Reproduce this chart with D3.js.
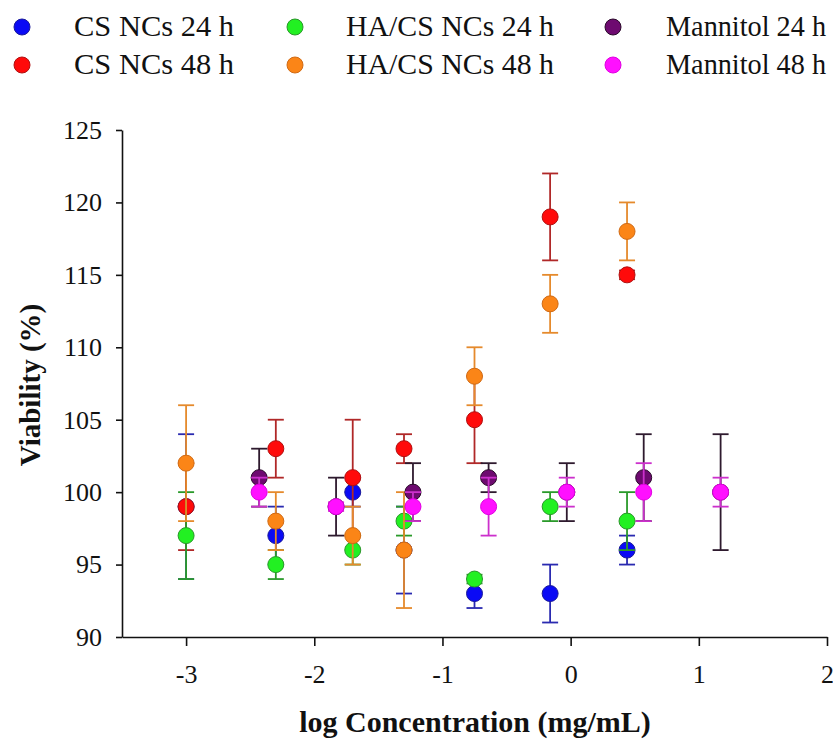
<!DOCTYPE html>
<html>
<head>
<meta charset="utf-8">
<script src="https://cdn.jsdelivr.net/npm/d3@7"></script>
<style>
  html, body { margin: 0; padding: 0; background: #fff; }
  svg { display: block; font-family: "Liberation Serif", "Times New Roman", serif; }
  svg text { font-family: "Liberation Serif", "Times New Roman", serif; }
</style>
</head>
<body>
<svg id="chart" width="833" height="742"></svg>
<script>
// log concentration (mg/mL) for the nanocarrier series and for mannitol
const ncLogConc = [-3, -2.3, -1.7, -1.3, -0.75, -0.16, 0.44];
const mannitolLogConc = [-2.43, -1.83, -1.23, -0.64, -0.03, 0.57, 1.17];

// viability (%) and error (±)
const cs24 = [99, 97, 100, 96, 93, 93, 96];
const cs24Err = [5, 2, 1, 3, 1, 2, 1];
const cs48 = [99, 103, 101, 103, 105, 119, 115];
const cs48Err = [3, 2, 4, 1, 3, 3, 0.3];
const ha24 = [97, 95, 96, 98, 94, 99, 98];
const ha24Err = [3, 1, 1, 1, 0.3, 1, 2];
const ha48 = [102, 98, 97, 96, 108, 113, 118];
const ha48Err = [4, 2, 2, 4, 2, 2, 2];
const man24 = [101, 99, 100, 101, 100, 101, 100];
const man24Err = [2, 2, 2, 1, 2, 3, 4];
const man48 = [100, 99, 99, 99, 100, 100, 100];
const man48Err = [1, 0.3, 1, 2, 1, 2, 1];

const xTicks = [-3, -2, -1, 0, 1, 2];
const yTicks = [90, 95, 100, 105, 110, 115, 120, 125];

const seriesNames = ["CS NCs 24 h", "CS NCs 48 h", "HA/CS NCs 24 h", "HA/CS NCs 48 h", "Mannitol 24 h", "Mannitol 48 h"];

const series = [
  { name: seriesNames[0], x: ncLogConc, y: cs24, e: cs24Err, fill: "#0a0af5", stroke: "#1a1a9a", bar: "#2a2ab0" },
  { name: seriesNames[1], x: ncLogConc, y: cs48, e: cs48Err, fill: "#ff0a0a", stroke: "#b01010", bar: "#b02828" },
  { name: seriesNames[2], x: ncLogConc, y: ha24, e: ha24Err, fill: "#22f022", stroke: "#2a962a", bar: "#2a9a2a" },
  { name: seriesNames[3], x: ncLogConc, y: ha48, e: ha48Err, fill: "#fb8517", stroke: "#d06a14", bar: "#e58a2c" },
  { name: seriesNames[4], x: mannitolLogConc, y: man24, e: man24Err, fill: "#6e0a70", stroke: "#2a0a2a", bar: "#2e1a2e" },
  { name: seriesNames[5], x: mannitolLogConc, y: man48, e: man48Err, fill: "#ff10ff", stroke: "#e000e0", bar: "#cc30cc" }
];

const serif = "'Liberation Serif', 'Times New Roman', serif";
const svg = d3.select("#chart");

const x = d3.scaleLinear().domain([-3.5, 2]).range([122, 827]);
const y = d3.scaleLinear().domain([90, 125]).range([637, 130]);

// axes
const xAxis = svg.append("g")
  .attr("transform", `translate(0,${y(90)})`)
  .call(d3.axisBottom(x).tickValues(xTicks).tickFormat(d => String(d)).tickSize(9).tickSizeOuter(0));
xAxis.attr("font-family", serif);
xAxis.select(".domain").attr("stroke", "#111").attr("stroke-width", 1.6);
xAxis.selectAll(".tick line").attr("stroke", "#111").attr("stroke-width", 1.6);
xAxis.selectAll(".tick text")
  .attr("y", 46).attr("dy", null)
  .attr("fill", "#111")
  .style("font-family", serif)
  .style("font-size", "26px");

const yAxis = svg.append("g")
  .attr("transform", `translate(${x(-3.5)},0)`)
  .call(d3.axisLeft(y).tickValues(yTicks).tickSize(6).tickPadding(14).tickSizeOuter(0));
yAxis.attr("font-family", serif);
yAxis.select(".domain").attr("stroke", "#111").attr("stroke-width", 1.6);
yAxis.selectAll(".tick line").attr("stroke", "#111").attr("stroke-width", 1.6);
yAxis.selectAll(".tick text")
  .attr("fill", "#111")
  .style("font-family", serif)
  .style("font-size", "26px");

// axis titles
svg.append("text")
  .attr("x", 475).attr("y", 732)
  .attr("text-anchor", "middle")
  .style("font-family", serif)
  .style("font-size", "30px").style("font-weight", "bold")
  .attr("fill", "#111")
  .text("log Concentration (mg/mL)");

svg.append("text")
  .attr("transform", "translate(40,385) rotate(-90)")
  .attr("text-anchor", "middle")
  .style("font-family", serif)
  .style("font-size", "29px").style("font-weight", "bold")
  .attr("fill", "#111")
  .text("Viability (%)");

// data: each series draws its error bars, then its markers
const capHalf = 8;
const radius = 8;
series.forEach(s => {
  const pts = s.x.map((xv, i) => ({ x: xv, y: s.y[i], e: s.e[i] }));
  const g = svg.append("g");
  const bars = g.selectAll("g.bar").data(pts).join("g").attr("class", "bar")
    .attr("stroke", s.bar).attr("stroke-width", 1.8).attr("fill", "none");
  bars.append("line")
    .attr("x1", d => x(d.x)).attr("x2", d => x(d.x))
    .attr("y1", d => y(d.y + d.e)).attr("y2", d => y(d.y - d.e));
  bars.append("line")
    .attr("x1", d => x(d.x) - capHalf).attr("x2", d => x(d.x) + capHalf)
    .attr("y1", d => y(d.y + d.e)).attr("y2", d => y(d.y + d.e));
  bars.append("line")
    .attr("x1", d => x(d.x) - capHalf).attr("x2", d => x(d.x) + capHalf)
    .attr("y1", d => y(d.y - d.e)).attr("y2", d => y(d.y - d.e));
  g.selectAll("circle").data(pts).join("circle")
    .attr("cx", d => x(d.x)).attr("cy", d => y(d.y)).attr("r", radius)
    .attr("fill", s.fill).attr("stroke", s.stroke).attr("stroke-width", 1);
});

// legend: three columns, two rows
const legendCols = [
  { dot: 22, text: 74, width: 160 },
  { dot: 295, text: 346, width: 208 },
  { dot: 613, text: 666, width: 160 }
];
const legendRows = [{ dot: 27, base: 36 }, { dot: 65, base: 74 }];
const legend = svg.append("g");
series.forEach((s, i) => {
  const col = legendCols[Math.floor(i / 2)];
  const row = legendRows[i % 2];
  legend.append("circle")
    .attr("cx", col.dot).attr("cy", row.dot).attr("r", 8)
    .attr("fill", s.fill).attr("stroke", s.stroke).attr("stroke-width", 1);
  legend.append("text")
    .attr("x", col.text).attr("y", row.base)
    .attr("textLength", col.width).attr("lengthAdjust", "spacingAndGlyphs")
    .style("font-family", serif)
    .style("font-size", "30px")
    .attr("fill", "#111")
    .text(s.name);
});
</script>
</body>
</html>
